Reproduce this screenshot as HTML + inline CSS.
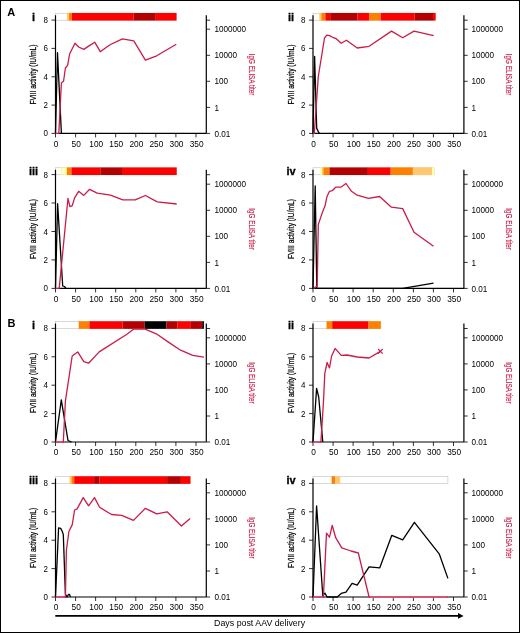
<!DOCTYPE html><html><head><meta charset="utf-8"><style>html,body{margin:0;padding:0;background:#fff;}svg{display:block;will-change:transform;}text{font-family:"Liberation Sans",sans-serif;}</style></head><body>
<div id="w"><svg width="520" height="633" viewBox="0 0 520 633">
<rect x="0" y="0" width="520" height="633" fill="#fff"/>
<rect x="0.5" y="0.5" width="519" height="632" fill="none" stroke="#000" stroke-width="1"/>
<text x="7.2" y="15.6" font-size="11" font-weight="bold">A</text>
<text x="7.4" y="327.1" font-size="11" font-weight="bold">B</text>
<g><rect x="55.5" y="13.25" width="121.0" height="7.0" fill="#fff" stroke="#c0c0c0" stroke-width="0.6"/><rect x="67.00" y="12.95" width="2.00" height="7.6" fill="#ffc870"/><rect x="69.00" y="12.95" width="3.00" height="7.6" fill="#ff8000"/><rect x="72.00" y="12.95" width="61.50" height="7.6" fill="#ff0000"/><rect x="133.50" y="12.95" width="22.30" height="7.6" fill="#b40000"/><rect x="155.80" y="12.95" width="20.70" height="7.6" fill="#ff0000"/><path d="M55.5,15.3V133.4H206.3M206.3,15.3V133.4" fill="none" stroke="#000" stroke-width="1.2"/><path d="M51.5,133.4H55.5M51.5,105.1H55.5M51.5,76.8H55.5M51.5,48.4H55.5M51.5,20.1H55.5M55.5,133.4V137.4M75.6,133.4V137.4M95.6,133.4V137.4M115.7,133.4V137.4M135.8,133.4V137.4M155.8,133.4V137.4M175.9,133.4V137.4M196.0,133.4V137.4M206.3,133.4H210.10000000000002M206.3,107.4H210.10000000000002M206.3,81.3H210.10000000000002M206.3,55.3H210.10000000000002M206.3,29.2H210.10000000000002M206.3,20.2H210.10000000000002" fill="none" stroke="#000" stroke-width="0.8"/><text transform="translate(48.0,136.4) scale(0.94,1)" font-size="8.5" text-anchor="end">0</text><text transform="translate(48.0,108.1) scale(0.94,1)" font-size="8.5" text-anchor="end">2</text><text transform="translate(48.0,79.8) scale(0.94,1)" font-size="8.5" text-anchor="end">4</text><text transform="translate(48.0,51.4) scale(0.94,1)" font-size="8.5" text-anchor="end">6</text><text transform="translate(48.0,23.1) scale(0.94,1)" font-size="8.5" text-anchor="end">8</text><text transform="translate(56.1,146.7) scale(0.98,1)" font-size="8.5" text-anchor="middle">0</text><text transform="translate(76.2,146.7) scale(0.98,1)" font-size="8.5" text-anchor="middle">50</text><text transform="translate(96.2,146.7) scale(0.98,1)" font-size="8.5" text-anchor="middle">100</text><text transform="translate(116.3,146.7) scale(0.98,1)" font-size="8.5" text-anchor="middle">150</text><text transform="translate(136.4,146.7) scale(0.98,1)" font-size="8.5" text-anchor="middle">200</text><text transform="translate(156.4,146.7) scale(0.98,1)" font-size="8.5" text-anchor="middle">250</text><text transform="translate(176.5,146.7) scale(0.98,1)" font-size="8.5" text-anchor="middle">300</text><text transform="translate(196.6,146.7) scale(0.98,1)" font-size="8.5" text-anchor="middle">350</text><text transform="translate(214.4,136.5) scale(0.96,1)" font-size="8.5">0.01</text><text transform="translate(214.4,110.5) scale(0.96,1)" font-size="8.5">1</text><text transform="translate(214.4,84.4) scale(0.96,1)" font-size="8.5">100</text><text transform="translate(214.4,58.4) scale(0.96,1)" font-size="8.5">10000</text><text transform="translate(214.4,32.3) scale(0.96,1)" font-size="8.5">1000000</text><text transform="translate(36.0,74.6) rotate(-90)" font-size="8.9" text-anchor="middle" textLength="60" lengthAdjust="spacingAndGlyphs" stroke="#000" stroke-width="0.25">FVIII activity (IU/mL)</text><text transform="translate(248.6,74.6) rotate(90)" font-size="9" fill="#ca1c48" text-anchor="middle" textLength="41.5" lengthAdjust="spacingAndGlyphs" stroke="#ca1c48" stroke-width="0.15">IgG ELISA titer</text><text x="33.5" y="20.9" font-size="11" font-weight="bold" text-anchor="middle" stroke="#000" stroke-width="0.3">i</text><polyline points="55.5,133.4 57.5,52.7 61.4,133.4" fill="none" stroke="#000" stroke-width="1.3" stroke-linejoin="round"/><path d="M56.1,133.4H58.2" stroke="#fff" stroke-width="1.8"/><polyline points="55.5,133.4 58.8,133.4 61.4,83.0 63.6,81.0 65.4,68.0 67.6,65.4 69.6,54.0 75.0,43.2 78.7,47.0 83.8,49.4 89.0,45.9 94.7,42.2 100.3,51.7 105.4,48.0 110.5,44.5 122.4,38.9 133.8,40.8 145.4,60.2 156.7,55.8 176.3,44.3" fill="none" stroke="#ca1c48" stroke-width="1.3" stroke-linejoin="round"/></g>
<g><rect x="313.0" y="13.25" width="122.6" height="7.0" fill="#fff" stroke="#c0c0c0" stroke-width="0.6"/><rect x="319.30" y="12.95" width="2.00" height="7.6" fill="#ffc870"/><rect x="321.30" y="12.95" width="4.10" height="7.6" fill="#ff8000"/><rect x="325.40" y="12.95" width="4.80" height="7.6" fill="#ff0000"/><rect x="330.20" y="12.95" width="27.40" height="7.6" fill="#b40000"/><rect x="357.60" y="12.95" width="11.50" height="7.6" fill="#ff0000"/><rect x="369.10" y="12.95" width="11.60" height="7.6" fill="#ff8000"/><rect x="380.70" y="12.95" width="34.00" height="7.6" fill="#ff0000"/><rect x="414.70" y="12.95" width="18.30" height="7.6" fill="#b40000"/><rect x="433.00" y="12.95" width="2.60" height="7.6" fill="#ff0000"/><path d="M313.0,15.3V133.4H463.9M463.9,15.3V133.4" fill="none" stroke="#000" stroke-width="1.2"/><path d="M309.0,133.4H313.0M309.0,105.1H313.0M309.0,76.8H313.0M309.0,48.4H313.0M309.0,20.1H313.0M313.0,133.4V137.4M333.1,133.4V137.4M353.1,133.4V137.4M373.2,133.4V137.4M393.3,133.4V137.4M413.4,133.4V137.4M433.4,133.4V137.4M453.5,133.4V137.4M463.9,133.4H467.7M463.9,107.4H467.7M463.9,81.3H467.7M463.9,55.3H467.7M463.9,29.2H467.7M463.9,20.2H467.7" fill="none" stroke="#000" stroke-width="0.8"/><text transform="translate(305.5,136.4) scale(0.94,1)" font-size="8.5" text-anchor="end">0</text><text transform="translate(305.5,108.1) scale(0.94,1)" font-size="8.5" text-anchor="end">2</text><text transform="translate(305.5,79.8) scale(0.94,1)" font-size="8.5" text-anchor="end">4</text><text transform="translate(305.5,51.4) scale(0.94,1)" font-size="8.5" text-anchor="end">6</text><text transform="translate(305.5,23.1) scale(0.94,1)" font-size="8.5" text-anchor="end">8</text><text transform="translate(313.6,146.7) scale(0.98,1)" font-size="8.5" text-anchor="middle">0</text><text transform="translate(333.7,146.7) scale(0.98,1)" font-size="8.5" text-anchor="middle">50</text><text transform="translate(353.7,146.7) scale(0.98,1)" font-size="8.5" text-anchor="middle">100</text><text transform="translate(373.8,146.7) scale(0.98,1)" font-size="8.5" text-anchor="middle">150</text><text transform="translate(393.9,146.7) scale(0.98,1)" font-size="8.5" text-anchor="middle">200</text><text transform="translate(414.0,146.7) scale(0.98,1)" font-size="8.5" text-anchor="middle">250</text><text transform="translate(434.0,146.7) scale(0.98,1)" font-size="8.5" text-anchor="middle">300</text><text transform="translate(454.1,146.7) scale(0.98,1)" font-size="8.5" text-anchor="middle">350</text><text transform="translate(471.4,136.5) scale(0.96,1)" font-size="8.5">0.01</text><text transform="translate(471.4,110.5) scale(0.96,1)" font-size="8.5">1</text><text transform="translate(471.4,84.4) scale(0.96,1)" font-size="8.5">100</text><text transform="translate(471.4,58.4) scale(0.96,1)" font-size="8.5">10000</text><text transform="translate(471.4,32.3) scale(0.96,1)" font-size="8.5">1000000</text><text transform="translate(293.5,74.6) rotate(-90)" font-size="8.9" text-anchor="middle" textLength="60" lengthAdjust="spacingAndGlyphs" stroke="#000" stroke-width="0.25">FVIII activity (IU/mL)</text><text transform="translate(506.2,74.6) rotate(90)" font-size="9" fill="#ca1c48" text-anchor="middle" textLength="41.5" lengthAdjust="spacingAndGlyphs" stroke="#ca1c48" stroke-width="0.15">IgG ELISA titer</text><text x="291.0" y="20.9" font-size="11" font-weight="bold" text-anchor="middle" stroke="#000" stroke-width="0.3">ii</text><polyline points="313.0,133.4 314.6,56.3 316.7,128.4 318.3,131.6 319.4,133.4" fill="none" stroke="#000" stroke-width="1.3" stroke-linejoin="round"/><path d="M313.6,133.4H313.7" stroke="#fff" stroke-width="1.8"/><polyline points="313.0,133.4 314.3,133.4 318.3,76.5 324.5,38.0 326.9,35.2 329.5,35.6 332.6,37.3 335.7,38.3 341.2,43.3 346.4,40.2 357.2,48.0 369.1,46.3 391.5,31.1 402.7,37.7 414.0,31.1 433.7,35.6" fill="none" stroke="#ca1c48" stroke-width="1.3" stroke-linejoin="round"/></g>
<g><rect x="55.5" y="167.75" width="121.2" height="7.0" fill="#fff" stroke="#c0c0c0" stroke-width="0.6"/><rect x="60.70" y="167.45" width="2.00" height="7.6" fill="#ffff99"/><rect x="64.40" y="167.45" width="2.40" height="7.6" fill="#ffff99"/><rect x="66.80" y="167.45" width="4.70" height="7.6" fill="#ff8000"/><rect x="71.50" y="167.45" width="28.80" height="7.6" fill="#ff0000"/><rect x="100.30" y="167.45" width="21.70" height="7.6" fill="#b40000"/><rect x="122.00" y="167.45" width="54.70" height="7.6" fill="#ff0000"/><path d="M55.5,169.8V288.4H206.3M206.3,169.8V288.4" fill="none" stroke="#000" stroke-width="1.2"/><path d="M51.5,288.4H55.5M51.5,259.9H55.5M51.5,231.5H55.5M51.5,203.0H55.5M51.5,174.6H55.5M55.5,288.4V292.4M75.6,288.4V292.4M95.6,288.4V292.4M115.7,288.4V292.4M135.8,288.4V292.4M155.8,288.4V292.4M175.9,288.4V292.4M196.0,288.4V292.4M206.3,288.4H210.10000000000002M206.3,262.4H210.10000000000002M206.3,236.3H210.10000000000002M206.3,210.3H210.10000000000002M206.3,184.2H210.10000000000002M206.3,174.7H210.10000000000002" fill="none" stroke="#000" stroke-width="0.8"/><text transform="translate(48.0,291.4) scale(0.94,1)" font-size="8.5" text-anchor="end">0</text><text transform="translate(48.0,262.9) scale(0.94,1)" font-size="8.5" text-anchor="end">2</text><text transform="translate(48.0,234.5) scale(0.94,1)" font-size="8.5" text-anchor="end">4</text><text transform="translate(48.0,206.0) scale(0.94,1)" font-size="8.5" text-anchor="end">6</text><text transform="translate(48.0,177.6) scale(0.94,1)" font-size="8.5" text-anchor="end">8</text><text transform="translate(56.1,301.7) scale(0.98,1)" font-size="8.5" text-anchor="middle">0</text><text transform="translate(76.2,301.7) scale(0.98,1)" font-size="8.5" text-anchor="middle">50</text><text transform="translate(96.2,301.7) scale(0.98,1)" font-size="8.5" text-anchor="middle">100</text><text transform="translate(116.3,301.7) scale(0.98,1)" font-size="8.5" text-anchor="middle">150</text><text transform="translate(136.4,301.7) scale(0.98,1)" font-size="8.5" text-anchor="middle">200</text><text transform="translate(156.4,301.7) scale(0.98,1)" font-size="8.5" text-anchor="middle">250</text><text transform="translate(176.5,301.7) scale(0.98,1)" font-size="8.5" text-anchor="middle">300</text><text transform="translate(196.6,301.7) scale(0.98,1)" font-size="8.5" text-anchor="middle">350</text><text transform="translate(214.4,291.5) scale(0.96,1)" font-size="8.5">0.01</text><text transform="translate(214.4,265.5) scale(0.96,1)" font-size="8.5">1</text><text transform="translate(214.4,239.4) scale(0.96,1)" font-size="8.5">100</text><text transform="translate(214.4,213.4) scale(0.96,1)" font-size="8.5">10000</text><text transform="translate(214.4,187.3) scale(0.96,1)" font-size="8.5">1000000</text><text transform="translate(36.0,229.1) rotate(-90)" font-size="8.9" text-anchor="middle" textLength="60" lengthAdjust="spacingAndGlyphs" stroke="#000" stroke-width="0.25">FVIII activity (IU/mL)</text><text transform="translate(248.6,229.1) rotate(90)" font-size="9" fill="#ca1c48" text-anchor="middle" textLength="41.5" lengthAdjust="spacingAndGlyphs" stroke="#ca1c48" stroke-width="0.15">IgG ELISA titer</text><text x="33.5" y="175.4" font-size="11" font-weight="bold" text-anchor="middle" stroke="#000" stroke-width="0.3">iii</text><polyline points="55.5,288.4 57.6,203.6 62.7,286.0 64.4,286.5 66.0,288.4" fill="none" stroke="#000" stroke-width="1.3" stroke-linejoin="round"/><path d="M56.1,288.4H58.6" stroke="#fff" stroke-width="1.8"/><polyline points="55.5,288.4 59.2,288.4 68.0,198.3 69.9,206.7 72.2,205.7 74.6,197.9 78.7,191.3 83.8,195.4 89.6,189.3 97.2,193.2 110.5,195.2 122.8,199.8 135.2,199.9 145.4,195.5 157.2,201.9 176.7,204.0" fill="none" stroke="#ca1c48" stroke-width="1.3" stroke-linejoin="round"/></g>
<g><rect x="313.0" y="167.75" width="121.0" height="7.0" fill="#fff" stroke="#c0c0c0" stroke-width="0.6"/><rect x="320.30" y="167.45" width="1.70" height="7.6" fill="#ffff99"/><rect x="322.00" y="167.45" width="1.40" height="7.6" fill="#ffc870"/><rect x="323.40" y="167.45" width="6.10" height="7.6" fill="#ff8000"/><rect x="329.50" y="167.45" width="38.40" height="7.6" fill="#b40000"/><rect x="367.90" y="167.45" width="22.80" height="7.6" fill="#ff0000"/><rect x="390.70" y="167.45" width="22.20" height="7.6" fill="#ff8000"/><rect x="412.90" y="167.45" width="19.10" height="7.6" fill="#ffc870"/><rect x="432.00" y="167.45" width="2.00" height="7.6" fill="#ffff99"/><path d="M313.0,169.8V288.4H463.9M463.9,169.8V288.4" fill="none" stroke="#000" stroke-width="1.2"/><path d="M309.0,288.4H313.0M309.0,259.9H313.0M309.0,231.5H313.0M309.0,203.0H313.0M309.0,174.6H313.0M313.0,288.4V292.4M333.1,288.4V292.4M353.1,288.4V292.4M373.2,288.4V292.4M393.3,288.4V292.4M413.4,288.4V292.4M433.4,288.4V292.4M453.5,288.4V292.4M463.9,288.4H467.7M463.9,262.4H467.7M463.9,236.3H467.7M463.9,210.3H467.7M463.9,184.2H467.7M463.9,174.7H467.7" fill="none" stroke="#000" stroke-width="0.8"/><text transform="translate(305.5,291.4) scale(0.94,1)" font-size="8.5" text-anchor="end">0</text><text transform="translate(305.5,262.9) scale(0.94,1)" font-size="8.5" text-anchor="end">2</text><text transform="translate(305.5,234.5) scale(0.94,1)" font-size="8.5" text-anchor="end">4</text><text transform="translate(305.5,206.0) scale(0.94,1)" font-size="8.5" text-anchor="end">6</text><text transform="translate(305.5,177.6) scale(0.94,1)" font-size="8.5" text-anchor="end">8</text><text transform="translate(313.6,301.7) scale(0.98,1)" font-size="8.5" text-anchor="middle">0</text><text transform="translate(333.7,301.7) scale(0.98,1)" font-size="8.5" text-anchor="middle">50</text><text transform="translate(353.7,301.7) scale(0.98,1)" font-size="8.5" text-anchor="middle">100</text><text transform="translate(373.8,301.7) scale(0.98,1)" font-size="8.5" text-anchor="middle">150</text><text transform="translate(393.9,301.7) scale(0.98,1)" font-size="8.5" text-anchor="middle">200</text><text transform="translate(414.0,301.7) scale(0.98,1)" font-size="8.5" text-anchor="middle">250</text><text transform="translate(434.0,301.7) scale(0.98,1)" font-size="8.5" text-anchor="middle">300</text><text transform="translate(454.1,301.7) scale(0.98,1)" font-size="8.5" text-anchor="middle">350</text><text transform="translate(471.4,291.5) scale(0.96,1)" font-size="8.5">0.01</text><text transform="translate(471.4,265.5) scale(0.96,1)" font-size="8.5">1</text><text transform="translate(471.4,239.4) scale(0.96,1)" font-size="8.5">100</text><text transform="translate(471.4,213.4) scale(0.96,1)" font-size="8.5">10000</text><text transform="translate(471.4,187.3) scale(0.96,1)" font-size="8.5">1000000</text><text transform="translate(293.5,229.1) rotate(-90)" font-size="8.9" text-anchor="middle" textLength="60" lengthAdjust="spacingAndGlyphs" stroke="#000" stroke-width="0.25">FVIII activity (IU/mL)</text><text transform="translate(506.2,229.1) rotate(90)" font-size="9" fill="#ca1c48" text-anchor="middle" textLength="41.5" lengthAdjust="spacingAndGlyphs" stroke="#ca1c48" stroke-width="0.15">IgG ELISA titer</text><text x="291.0" y="175.4" font-size="11" font-weight="bold" text-anchor="middle" stroke="#000" stroke-width="0.3">iv</text><polyline points="313.0,288.4 315.2,186.0 316.8,288.4 402.7,288.4 433.5,283.2" fill="none" stroke="#000" stroke-width="1.3" stroke-linejoin="round"/><polyline points="313.5,288.4 317.2,286.0 318.3,224.5 320.7,217.4 322.8,211.2 325.0,206.1 326.9,196.8 329.5,191.3 332.2,190.7 335.7,187.2 340.8,187.2 346.0,183.5 351.5,191.3 357.2,195.2 368.5,198.3 379.6,196.5 391.4,207.2 402.7,208.6 414.0,232.2 433.5,246.2" fill="none" stroke="#ca1c48" stroke-width="1.3" stroke-linejoin="round"/></g>
<g><rect x="55.5" y="321.55" width="148.4" height="7.0" fill="#fff" stroke="#c0c0c0" stroke-width="0.6"/><rect x="78.70" y="321.25" width="10.70" height="7.6" fill="#ff8000"/><rect x="89.40" y="321.25" width="33.30" height="7.6" fill="#ff0000"/><rect x="122.70" y="321.25" width="22.00" height="7.6" fill="#b40000"/><rect x="144.70" y="321.25" width="21.70" height="7.6" fill="#000000"/><rect x="166.40" y="321.25" width="11.20" height="7.6" fill="#b40000"/><rect x="177.60" y="321.25" width="13.30" height="7.6" fill="#ff0000"/><rect x="190.90" y="321.25" width="11.30" height="7.6" fill="#b40000"/><rect x="202.20" y="321.25" width="1.70" height="7.6" fill="#000000"/><path d="M55.5,323.6V442.0H206.3M206.3,323.6V442.0" fill="none" stroke="#000" stroke-width="1.2"/><path d="M51.5,442.0H55.5M51.5,413.6H55.5M51.5,385.2H55.5M51.5,356.8H55.5M51.5,328.4H55.5M55.5,442.0V446.0M75.6,442.0V446.0M95.6,442.0V446.0M115.7,442.0V446.0M135.8,442.0V446.0M155.8,442.0V446.0M175.9,442.0V446.0M196.0,442.0V446.0M206.3,442.0H210.10000000000002M206.3,416.0H210.10000000000002M206.3,389.9H210.10000000000002M206.3,363.9H210.10000000000002M206.3,337.8H210.10000000000002M206.3,328.5H210.10000000000002" fill="none" stroke="#000" stroke-width="0.8"/><text transform="translate(48.0,445.0) scale(0.94,1)" font-size="8.5" text-anchor="end">0</text><text transform="translate(48.0,416.6) scale(0.94,1)" font-size="8.5" text-anchor="end">2</text><text transform="translate(48.0,388.2) scale(0.94,1)" font-size="8.5" text-anchor="end">4</text><text transform="translate(48.0,359.8) scale(0.94,1)" font-size="8.5" text-anchor="end">6</text><text transform="translate(48.0,331.4) scale(0.94,1)" font-size="8.5" text-anchor="end">8</text><text transform="translate(56.1,455.3) scale(0.98,1)" font-size="8.5" text-anchor="middle">0</text><text transform="translate(76.2,455.3) scale(0.98,1)" font-size="8.5" text-anchor="middle">50</text><text transform="translate(96.2,455.3) scale(0.98,1)" font-size="8.5" text-anchor="middle">100</text><text transform="translate(116.3,455.3) scale(0.98,1)" font-size="8.5" text-anchor="middle">150</text><text transform="translate(136.4,455.3) scale(0.98,1)" font-size="8.5" text-anchor="middle">200</text><text transform="translate(156.4,455.3) scale(0.98,1)" font-size="8.5" text-anchor="middle">250</text><text transform="translate(176.5,455.3) scale(0.98,1)" font-size="8.5" text-anchor="middle">300</text><text transform="translate(196.6,455.3) scale(0.98,1)" font-size="8.5" text-anchor="middle">350</text><text transform="translate(214.4,445.1) scale(0.96,1)" font-size="8.5">0.01</text><text transform="translate(214.4,419.1) scale(0.96,1)" font-size="8.5">1</text><text transform="translate(214.4,393.0) scale(0.96,1)" font-size="8.5">100</text><text transform="translate(214.4,367.0) scale(0.96,1)" font-size="8.5">10000</text><text transform="translate(214.4,340.9) scale(0.96,1)" font-size="8.5">1000000</text><text transform="translate(36.0,382.9) rotate(-90)" font-size="8.9" text-anchor="middle" textLength="60" lengthAdjust="spacingAndGlyphs" stroke="#000" stroke-width="0.25">FVIII activity (IU/mL)</text><text transform="translate(248.6,382.9) rotate(90)" font-size="9" fill="#ca1c48" text-anchor="middle" textLength="41.5" lengthAdjust="spacingAndGlyphs" stroke="#ca1c48" stroke-width="0.15">IgG ELISA titer</text><text x="33.5" y="329.2" font-size="11" font-weight="bold" text-anchor="middle" stroke="#000" stroke-width="0.3">i</text><polyline points="55.5,442.0 61.3,399.8 68.0,440.5 71.5,442.0" fill="none" stroke="#000" stroke-width="1.3" stroke-linejoin="round"/><path d="M56.1,442.0H62.7" stroke="#fff" stroke-width="1.8"/><polyline points="55.5,442.0 63.3,442.0 65.4,401.1 72.2,356.0 77.7,351.9 83.8,361.7 88.6,363.2 99.2,351.9 126.9,334.3 133.8,329.1 145.1,329.1 156.3,333.8 168.4,342.1 180.6,350.2 192.7,355.4 203.9,357.1" fill="none" stroke="#ca1c48" stroke-width="1.3" stroke-linejoin="round"/></g>
<g><rect x="313.0" y="321.55" width="67.8" height="7.0" fill="#fff" stroke="#c0c0c0" stroke-width="0.6"/><rect x="326.50" y="321.25" width="5.70" height="7.6" fill="#ff8000"/><rect x="332.20" y="321.25" width="36.30" height="7.6" fill="#ff0000"/><rect x="368.50" y="321.25" width="12.30" height="7.6" fill="#ff8000"/><path d="M313.0,323.6V442.0H463.9M463.9,323.6V442.0" fill="none" stroke="#000" stroke-width="1.2"/><path d="M309.0,442.0H313.0M309.0,413.6H313.0M309.0,385.2H313.0M309.0,356.8H313.0M309.0,328.4H313.0M313.0,442.0V446.0M333.1,442.0V446.0M353.1,442.0V446.0M373.2,442.0V446.0M393.3,442.0V446.0M413.4,442.0V446.0M433.4,442.0V446.0M453.5,442.0V446.0M463.9,442.0H467.7M463.9,416.0H467.7M463.9,389.9H467.7M463.9,363.9H467.7M463.9,337.8H467.7M463.9,328.5H467.7" fill="none" stroke="#000" stroke-width="0.8"/><text transform="translate(305.5,445.0) scale(0.94,1)" font-size="8.5" text-anchor="end">0</text><text transform="translate(305.5,416.6) scale(0.94,1)" font-size="8.5" text-anchor="end">2</text><text transform="translate(305.5,388.2) scale(0.94,1)" font-size="8.5" text-anchor="end">4</text><text transform="translate(305.5,359.8) scale(0.94,1)" font-size="8.5" text-anchor="end">6</text><text transform="translate(305.5,331.4) scale(0.94,1)" font-size="8.5" text-anchor="end">8</text><text transform="translate(313.6,455.3) scale(0.98,1)" font-size="8.5" text-anchor="middle">0</text><text transform="translate(333.7,455.3) scale(0.98,1)" font-size="8.5" text-anchor="middle">50</text><text transform="translate(353.7,455.3) scale(0.98,1)" font-size="8.5" text-anchor="middle">100</text><text transform="translate(373.8,455.3) scale(0.98,1)" font-size="8.5" text-anchor="middle">150</text><text transform="translate(393.9,455.3) scale(0.98,1)" font-size="8.5" text-anchor="middle">200</text><text transform="translate(414.0,455.3) scale(0.98,1)" font-size="8.5" text-anchor="middle">250</text><text transform="translate(434.0,455.3) scale(0.98,1)" font-size="8.5" text-anchor="middle">300</text><text transform="translate(454.1,455.3) scale(0.98,1)" font-size="8.5" text-anchor="middle">350</text><text transform="translate(471.4,445.1) scale(0.96,1)" font-size="8.5">0.01</text><text transform="translate(471.4,419.1) scale(0.96,1)" font-size="8.5">1</text><text transform="translate(471.4,393.0) scale(0.96,1)" font-size="8.5">100</text><text transform="translate(471.4,367.0) scale(0.96,1)" font-size="8.5">10000</text><text transform="translate(471.4,340.9) scale(0.96,1)" font-size="8.5">1000000</text><text transform="translate(293.5,382.9) rotate(-90)" font-size="8.9" text-anchor="middle" textLength="60" lengthAdjust="spacingAndGlyphs" stroke="#000" stroke-width="0.25">FVIII activity (IU/mL)</text><text transform="translate(506.2,382.9) rotate(90)" font-size="9" fill="#ca1c48" text-anchor="middle" textLength="41.5" lengthAdjust="spacingAndGlyphs" stroke="#ca1c48" stroke-width="0.15">IgG ELISA titer</text><text x="291.0" y="329.2" font-size="11" font-weight="bold" text-anchor="middle" stroke="#000" stroke-width="0.3">ii</text><polyline points="313.0,442.0 316.6,388.4 318.7,397.0 322.8,442.0" fill="none" stroke="#000" stroke-width="1.3" stroke-linejoin="round"/><path d="M313.6,442.0H320.3" stroke="#fff" stroke-width="1.8"/><polyline points="313.0,442.0 320.9,442.0 323.4,403.2 324.8,373.4 327.1,362.5 329.5,367.9 331.6,356.0 335.1,348.4 341.2,355.4 347.0,355.0 357.2,357.0 369.1,358.0 380.4,351.4" fill="none" stroke="#ca1c48" stroke-width="1.3" stroke-linejoin="round"/><path d="M378.1,349.0L382.7,353.6M378.1,353.6L382.7,349.0" stroke="#ca1c48" stroke-width="1.1"/></g>
<g><rect x="55.5" y="476.55" width="134.9" height="7.0" fill="#fff" stroke="#c0c0c0" stroke-width="0.6"/><rect x="69.50" y="476.25" width="2.00" height="7.6" fill="#ffc870"/><rect x="71.50" y="476.25" width="2.70" height="7.6" fill="#ff8000"/><rect x="74.20" y="476.25" width="19.90" height="7.6" fill="#ff0000"/><rect x="94.10" y="476.25" width="5.50" height="7.6" fill="#b40000"/><rect x="99.60" y="476.25" width="67.50" height="7.6" fill="#ff0000"/><rect x="167.10" y="476.25" width="13.80" height="7.6" fill="#b40000"/><rect x="180.90" y="476.25" width="9.50" height="7.6" fill="#ff0000"/><path d="M55.5,478.6V597.0H206.3M206.3,478.6V597.0" fill="none" stroke="#000" stroke-width="1.2"/><path d="M51.5,597.0H55.5M51.5,568.6H55.5M51.5,540.2H55.5M51.5,511.8H55.5M51.5,483.4H55.5M55.5,597.0V601.0M75.6,597.0V601.0M95.6,597.0V601.0M115.7,597.0V601.0M135.8,597.0V601.0M155.8,597.0V601.0M175.9,597.0V601.0M196.0,597.0V601.0M206.3,597.0H210.10000000000002M206.3,571.0H210.10000000000002M206.3,544.9H210.10000000000002M206.3,518.9H210.10000000000002M206.3,492.8H210.10000000000002M206.3,483.5H210.10000000000002" fill="none" stroke="#000" stroke-width="0.8"/><text transform="translate(48.0,600.0) scale(0.94,1)" font-size="8.5" text-anchor="end">0</text><text transform="translate(48.0,571.6) scale(0.94,1)" font-size="8.5" text-anchor="end">2</text><text transform="translate(48.0,543.2) scale(0.94,1)" font-size="8.5" text-anchor="end">4</text><text transform="translate(48.0,514.8) scale(0.94,1)" font-size="8.5" text-anchor="end">6</text><text transform="translate(48.0,486.4) scale(0.94,1)" font-size="8.5" text-anchor="end">8</text><text transform="translate(56.1,610.3) scale(0.98,1)" font-size="8.5" text-anchor="middle">0</text><text transform="translate(76.2,610.3) scale(0.98,1)" font-size="8.5" text-anchor="middle">50</text><text transform="translate(96.2,610.3) scale(0.98,1)" font-size="8.5" text-anchor="middle">100</text><text transform="translate(116.3,610.3) scale(0.98,1)" font-size="8.5" text-anchor="middle">150</text><text transform="translate(136.4,610.3) scale(0.98,1)" font-size="8.5" text-anchor="middle">200</text><text transform="translate(156.4,610.3) scale(0.98,1)" font-size="8.5" text-anchor="middle">250</text><text transform="translate(176.5,610.3) scale(0.98,1)" font-size="8.5" text-anchor="middle">300</text><text transform="translate(196.6,610.3) scale(0.98,1)" font-size="8.5" text-anchor="middle">350</text><text transform="translate(214.4,600.1) scale(0.96,1)" font-size="8.5">0.01</text><text transform="translate(214.4,574.1) scale(0.96,1)" font-size="8.5">1</text><text transform="translate(214.4,548.0) scale(0.96,1)" font-size="8.5">100</text><text transform="translate(214.4,522.0) scale(0.96,1)" font-size="8.5">10000</text><text transform="translate(214.4,495.9) scale(0.96,1)" font-size="8.5">1000000</text><text transform="translate(36.0,537.9) rotate(-90)" font-size="8.9" text-anchor="middle" textLength="60" lengthAdjust="spacingAndGlyphs" stroke="#000" stroke-width="0.25">FVIII activity (IU/mL)</text><text transform="translate(248.6,537.9) rotate(90)" font-size="9" fill="#ca1c48" text-anchor="middle" textLength="41.5" lengthAdjust="spacingAndGlyphs" stroke="#ca1c48" stroke-width="0.15">IgG ELISA titer</text><text x="33.5" y="484.2" font-size="11" font-weight="bold" text-anchor="middle" stroke="#000" stroke-width="0.3">iii</text><polyline points="55.5,597.0 58.6,527.8 60.7,528.4 62.3,531.5 63.3,534.6 65.4,594.0 67.0,597.0 68.5,594.5 69.5,594.5 70.5,597.0" fill="none" stroke="#000" stroke-width="1.3" stroke-linejoin="round"/><path d="M56.1,597.0H64.8" stroke="#fff" stroke-width="1.8"/><polyline points="55.5,597.0 65.4,597.0 66.4,550.0 68.9,531.5 72.2,524.9 74.6,510.0 77.1,508.9 83.2,497.6 88.6,505.8 94.5,497.6 99.6,507.3 111.5,514.5 121.7,515.3 133.5,520.4 145.4,508.3 156.7,513.9 167.1,511.8 181.4,526.0 190.1,518.4" fill="none" stroke="#ca1c48" stroke-width="1.3" stroke-linejoin="round"/></g>
<g><rect x="313.0" y="476.55" width="134.9" height="7.0" fill="#fff" stroke="#c0c0c0" stroke-width="0.6"/><rect x="331.60" y="476.25" width="3.70" height="7.6" fill="#ff8000"/><rect x="335.30" y="476.25" width="4.90" height="7.6" fill="#ffc870"/><path d="M313.0,478.6V597.0H463.9M463.9,478.6V597.0" fill="none" stroke="#000" stroke-width="1.2"/><path d="M309.0,597.0H313.0M309.0,568.6H313.0M309.0,540.2H313.0M309.0,511.8H313.0M309.0,483.4H313.0M313.0,597.0V601.0M333.1,597.0V601.0M353.1,597.0V601.0M373.2,597.0V601.0M393.3,597.0V601.0M413.4,597.0V601.0M433.4,597.0V601.0M453.5,597.0V601.0M463.9,597.0H467.7M463.9,571.0H467.7M463.9,544.9H467.7M463.9,518.9H467.7M463.9,492.8H467.7M463.9,483.5H467.7" fill="none" stroke="#000" stroke-width="0.8"/><text transform="translate(305.5,600.0) scale(0.94,1)" font-size="8.5" text-anchor="end">0</text><text transform="translate(305.5,571.6) scale(0.94,1)" font-size="8.5" text-anchor="end">2</text><text transform="translate(305.5,543.2) scale(0.94,1)" font-size="8.5" text-anchor="end">4</text><text transform="translate(305.5,514.8) scale(0.94,1)" font-size="8.5" text-anchor="end">6</text><text transform="translate(305.5,486.4) scale(0.94,1)" font-size="8.5" text-anchor="end">8</text><text transform="translate(313.6,610.3) scale(0.98,1)" font-size="8.5" text-anchor="middle">0</text><text transform="translate(333.7,610.3) scale(0.98,1)" font-size="8.5" text-anchor="middle">50</text><text transform="translate(353.7,610.3) scale(0.98,1)" font-size="8.5" text-anchor="middle">100</text><text transform="translate(373.8,610.3) scale(0.98,1)" font-size="8.5" text-anchor="middle">150</text><text transform="translate(393.9,610.3) scale(0.98,1)" font-size="8.5" text-anchor="middle">200</text><text transform="translate(414.0,610.3) scale(0.98,1)" font-size="8.5" text-anchor="middle">250</text><text transform="translate(434.0,610.3) scale(0.98,1)" font-size="8.5" text-anchor="middle">300</text><text transform="translate(454.1,610.3) scale(0.98,1)" font-size="8.5" text-anchor="middle">350</text><text transform="translate(471.4,600.1) scale(0.96,1)" font-size="8.5">0.01</text><text transform="translate(471.4,574.1) scale(0.96,1)" font-size="8.5">1</text><text transform="translate(471.4,548.0) scale(0.96,1)" font-size="8.5">100</text><text transform="translate(471.4,522.0) scale(0.96,1)" font-size="8.5">10000</text><text transform="translate(471.4,495.9) scale(0.96,1)" font-size="8.5">1000000</text><text transform="translate(293.5,537.9) rotate(-90)" font-size="8.9" text-anchor="middle" textLength="60" lengthAdjust="spacingAndGlyphs" stroke="#000" stroke-width="0.25">FVIII activity (IU/mL)</text><text transform="translate(506.2,537.9) rotate(90)" font-size="9" fill="#ca1c48" text-anchor="middle" textLength="41.5" lengthAdjust="spacingAndGlyphs" stroke="#ca1c48" stroke-width="0.15">IgG ELISA titer</text><text x="291.0" y="484.2" font-size="11" font-weight="bold" text-anchor="middle" stroke="#000" stroke-width="0.3">iv</text><polyline points="313.0,597.0 316.6,505.8 322.8,595.6 324.9,593.1 327.1,597.0 330.5,597.0 333.5,597.0 337.2,597.0 341.2,593.4 346.0,592.1 352.1,583.4 357.2,585.2 369.1,566.8 379.8,567.8 391.8,535.3 402.7,539.8 414.4,522.3 439.2,553.8 447.9,578.4" fill="none" stroke="#000" stroke-width="1.3" stroke-linejoin="round"/><path d="M313.6,597.0H322.8" stroke="#fff" stroke-width="1.8"/><path d="M369.7,597.0H447.3" stroke="#fff" stroke-width="1.8"/><polyline points="313.0,597.0 323.4,597.0 326.5,533.1 329.5,537.2 332.2,525.3 335.7,537.7 341.8,547.9 351.1,551.0 358.3,553.0 369.1,597.0 447.9,597.0" fill="none" stroke="#ca1c48" stroke-width="1.3" stroke-linejoin="round"/></g>
<path d="M55.3,615.9H459" stroke="#000" stroke-width="1.7"/>
<path d="M458,613.1L463.6,615.9L458,618.7Z" fill="#000"/>
<text x="214.1" y="626.4" font-size="9" textLength="91" lengthAdjust="spacingAndGlyphs">Days post AAV delivery</text>
</svg></div></body></html>
